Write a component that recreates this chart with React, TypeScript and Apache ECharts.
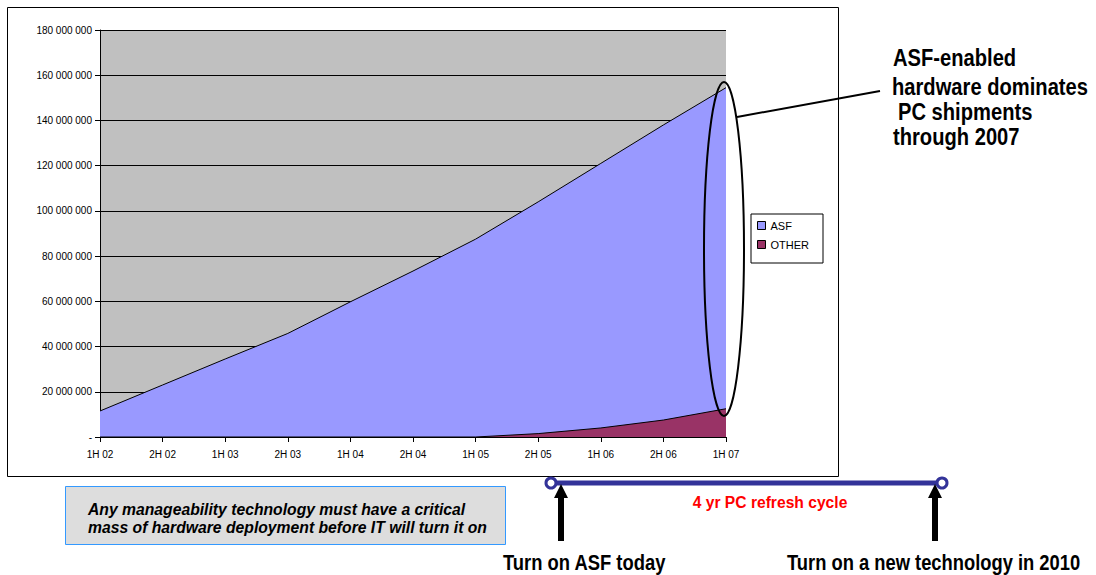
import React, { useEffect, useRef } from "react";
import * as echarts from "echarts";

const categories = ["1H 02", "2H 02", "1H 03", "2H 03", "1H 04", "2H 04", "1H 05", "2H 05", "1H 06", "2H 06", "1H 07"];
const asfValues = [11500000, 23000000, 34500000, 45800000, 59800000, 73400000, 87500000, 104000000, 121000000, 138000000, 154500000];
const otherValues = [0, 0, 0, 0, 0, 0, 0, 1500000, 4000000, 7500000, 12500000];
const yTicks = { min: 0, max: 180000000, interval: 20000000 };

const fmt = (v: number) => {
  if (v === 0) return "-";
  return String(Math.round(v)).replace(/\B(?=(\d{3})+(?!\d))/g, " ");
};

const boldFont = (size: number) => `bold ${size}px "Liberation Sans", Arial, sans-serif`;

export default function App() {
  const ref = useRef<HTMLDivElement>(null);
  useEffect(() => {
    if (!ref.current) return;
    const chart = echarts.init(ref.current, null, { renderer: "svg" });
    const arrow = (x: number) => ({
      type: "polygon",
      shape: {
        points: [
          [x, 484], [x + 7, 498], [x + 3, 498], [x + 3, 541], [x - 3, 541], [x - 3, 498], [x - 7, 498],
        ],
      },
      style: { fill: "#000" },
      z: 12,
    });
    chart.setOption({
      animation: false,
      backgroundColor: "#fff",
      grid: {
        left: 100,
        right: 370,
        top: 30,
        bottom: 138,
        show: true,
        backgroundColor: "#C0C0C0",
        borderWidth: 0,
      },
      legend: {
        left: 751,
        top: 214,
        orient: "vertical",
        itemWidth: 8,
        itemHeight: 8,
        itemGap: 8,
        padding: [6, 14, 13, 6],
        borderColor: "#000",
        borderWidth: 1,
        backgroundColor: "#fff",
        icon: "rect",
        textStyle: { fontSize: 11, color: "#000", fontFamily: "Liberation Sans, Arial, sans-serif" },
        itemStyle: { borderColor: "#000", borderWidth: 1 },
        data: ["ASF", "OTHER"],
      },
      xAxis: {
        type: "category",
        data: categories,
        boundaryGap: false,
        axisLine: { show: true, lineStyle: { color: "#000", width: 1 } },
        axisTick: { show: true, length: 5, lineStyle: { color: "#000" } },
        axisLabel: { color: "#000", fontSize: 10, margin: 12, fontFamily: "Liberation Sans, Arial, sans-serif" },
        splitLine: { show: false },
      },
      yAxis: {
        type: "value",
        min: yTicks.min,
        max: yTicks.max,
        interval: yTicks.interval,
        axisLine: { show: true, lineStyle: { color: "#000", width: 1 } },
        axisTick: { show: true, length: 5, lineStyle: { color: "#000" } },
        axisLabel: { color: "#000", fontSize: 10, margin: 8, formatter: fmt, fontFamily: "Liberation Sans, Arial, sans-serif" },
        splitLine: { show: true, lineStyle: { color: "#000", width: 1 } },
      },
      series: [
        {
          name: "ASF",
          type: "line",
          data: asfValues,
          symbol: "none",
          lineStyle: { color: "#000", width: 1 },
          itemStyle: { color: "#9999FF" },
          areaStyle: { color: "#9999FF", opacity: 1 },
          z: 2,
        },
        {
          name: "OTHER",
          type: "line",
          data: otherValues,
          symbol: "none",
          lineStyle: { color: "#000", width: 1 },
          itemStyle: { color: "#993366" },
          areaStyle: { color: "#993366", opacity: 1 },
          z: 3,
        },
      ],
      graphic: [
        {
          type: "rect",
          shape: { x: 7.5, y: 7.5, width: 831, height: 469 },
          style: { fill: "none", stroke: "#000", lineWidth: 1 },
          z: 0,
          silent: true,
        },
        {
          type: "ellipse",
          shape: { cx: 724, cy: 249, rx: 20, ry: 167 },
          style: { fill: "none", stroke: "#000", lineWidth: 2 },
          z: 10,
        },
        {
          type: "line",
          shape: { x1: 737, y1: 117, x2: 880, y2: 91 },
          style: { stroke: "#000", lineWidth: 2 },
          z: 10,
        },
        { type: "text", x: 893, y: 58, scaleX: 0.84, style: { text: "ASF-enabled", font: boldFont(24), fill: "#000", verticalAlign: "middle" }, z: 10 },
        { type: "text", x: 892, y: 87, scaleX: 0.84, style: { text: "hardware dominates", font: boldFont(24), fill: "#000", verticalAlign: "middle" }, z: 10 },
        { type: "text", x: 898, y: 112, scaleX: 0.84, style: { text: "PC shipments", font: boldFont(24), fill: "#000", verticalAlign: "middle" }, z: 10 },
        { type: "text", x: 893, y: 137, scaleX: 0.84, style: { text: "through 2007", font: boldFont(24), fill: "#000", verticalAlign: "middle" }, z: 10 },
        {
          type: "rect",
          shape: { x: 65.5, y: 486.5, width: 440, height: 58 },
          style: { fill: "#DDDDDD", stroke: "#3399FF", lineWidth: 1 },
          z: 10,
        },
        { type: "text", x: 88, y: 509, scaleX: 0.925, style: { text: "Any manageability technology must have a critical", font: `italic bold 17px "Liberation Sans", Arial, sans-serif`, fill: "#000", verticalAlign: "middle" }, z: 11 },
        { type: "text", x: 88, y: 527, scaleX: 0.925, style: { text: "mass of hardware deployment before IT will turn it on", font: `italic bold 17px "Liberation Sans", Arial, sans-serif`, fill: "#000", verticalAlign: "middle" }, z: 11 },
        {
          type: "line",
          shape: { x1: 551, y1: 483, x2: 942, y2: 483 },
          style: { stroke: "#333399", lineWidth: 5 },
          z: 10,
        },
        { type: "circle", shape: { cx: 551, cy: 483, r: 5 }, style: { fill: "#fff", stroke: "#333399", lineWidth: 3 }, z: 11 },
        { type: "circle", shape: { cx: 942, cy: 483, r: 5 }, style: { fill: "#fff", stroke: "#333399", lineWidth: 3 }, z: 11 },
        arrow(561),
        arrow(935),
        { type: "text", x: 770, y: 502, scaleX: 0.92, style: { text: "4 yr PC refresh cycle", font: boldFont(17), fill: "#FF0000", align: "center", verticalAlign: "middle" }, z: 11 },
        { type: "text", x: 503, y: 562, scaleX: 0.836, style: { text: "Turn on ASF today", font: boldFont(22), fill: "#000", verticalAlign: "middle" }, z: 11 },
        { type: "text", x: 787, y: 562, scaleX: 0.834, style: { text: "Turn on a new technology in 2010", font: boldFont(22), fill: "#000", verticalAlign: "middle" }, z: 11 },
      ],
    });
    return () => chart.dispose();
  }, []);
  return <div ref={ref} style={{ position: "fixed", left: 0, top: 0, width: 1096, height: 575 }} />;
}
